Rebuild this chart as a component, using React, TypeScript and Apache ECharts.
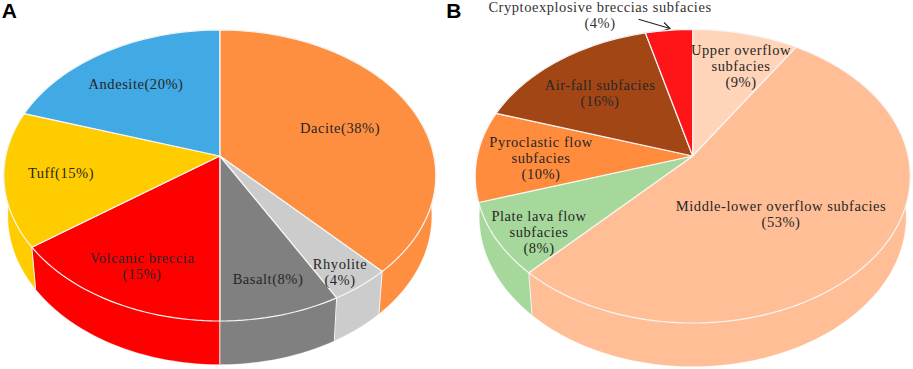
import React, { useEffect, useRef } from "react";
import * as echarts from "echarts";

// ---- data ----
const rocksNames = ["Dacite", "Rhyolite", "Basalt", "Volcanic breccia", "Tuff", "Andesite"];
const rocksValues = [38, 4, 8, 15, 15, 20];
const rocksLabels = ["Dacite(38%)", "Rhyolite\n(4%)", "Basalt(8%)", "Volcanic breccia\n(15%)", "Tuff(15%)", "Andesite(20%)"];
const rocksColors = ["#FF8F40", "#CCCCCC", "#808080", "#FF0000", "#FFCC00", "#41A9E3"];

const faciesNames = [
  "Upper overflow subfacies",
  "Middle-lower overflow subfacies",
  "Plate lava flow subfacies",
  "Pyroclastic flow subfacies",
  "Air-fall subfacies",
  "Cryptoexplosive breccias subfacies",
];
const faciesValues = [9, 53, 8, 10, 16, 4];
const faciesLabels = [
  "Upper overflow\nsubfacies\n(9%)",
  "Middle-lower overflow subfacies\n(53%)",
  "Plate lava flow\nsubfacies\n(8%)",
  "Pyroclastic flow\nsubfacies\n(10%)",
  "Air-fall subfacies\n(16%)",
  "",
];
const faciesColors = ["#FFD4B8", "#FFBE96", "#A6D89B", "#FF8C3C", "#A34616", "#FF1418"];
const calloutLabel = "Cryptoexplosive breccias subfacies\n(4%)";

// ---- layout ----
const WIDTH = 913;
const HEIGHT = 369;
const FONT = "'Liberation Serif', 'Times New Roman', serif";
const rocksLabelPos = [[340, 127.5], [340, 272], [268, 279], [142, 266], [61, 172.5], [136, 84]];
const faciesLabelPos = [[741, 66], [781, 214], [539, 232], [541, 158], [600, 93], [600, 14.5]];

type Geo = { cx: number; cy: number; up: number; down: number; rx: number };
const rocksGeo: Geo = { cx: 219.8, cy: 156, up: 126, down: 165, rx: 216 };
const faciesGeo: Geo = { cx: 692.7, cy: 156, up: 126.5, down: 167, rx: 217.5 };

// Perspective view of a circle: radial lines stay straight and meet at the apex.
function makeProjector(g: Geo) {
  const c = (g.down - g.up) / (g.down + g.up);
  const k = g.down * (1 - c);
  const m = g.rx * Math.sqrt(1 - c * c);
  const top = (share: number) => {
    const t = (share / 100) * Math.PI * 2;
    const X = Math.sin(t);
    const Y = -Math.cos(t);
    const w = 1 - c * Y;
    return [g.cx + (m * X) / w, g.cy + (k * Y) / w];
  };
  const bottom = (share: number) => {
    const p = top(share);
    return [g.cx + (p[0] - g.cx) * 0.98, g.cy + 40 + (p[1] - g.cy) * 1.02];
  };
  return { top, bottom };
}

function arc(fn: (s: number) => number[], from: number, to: number) {
  const n = Math.max(2, Math.ceil((to - from) * 2));
  const out: number[][] = [];
  for (let i = 0; i <= n; i++) out.push(fn(from + ((to - from) * i) / n));
  return out;
}

const frontness = (share: number) => -Math.cos((share / 100) * Math.PI * 2);

// A boundary close to the silhouette has no visible seam on the wall.
function wallShare(share: number) {
  const Y = frontness(share);
  if (Y > 0 && Y < 0.4) return share < 50 ? 25 : 75;
  return share;
}

function pieSeries(values: number[], colors: string[], labels: string[], labelPos: number[][], names: string[], geo: Geo) {
  const proj = makeProjector(geo);
  const starts: number[] = [];
  values.reduce((acc, v, i) => {
    starts[i] = acc;
    return acc + v;
  }, 0);
  const data = names.map((name, i) => ({ name, value: values[i] }));

  const sides = {
    type: "custom",
    coordinateSystem: "none",
    silent: true,
    z: 1,
    data,
    renderItem: (params: any, api: any) => {
      const i = params.dataIndex;
      const start = starts[i];
      const from = wallShare(start);
      const to = wallShare(start + api.value(0));
      const t = arc(proj.top, from, to);
      const b = arc(proj.bottom, from, to).reverse();
      const children: any[] = [
        { type: "polygon", shape: { points: [...t, ...b] }, style: { fill: colors[i], stroke: colors[i], lineWidth: 0.3 } },
      ];
      if (frontness(start) >= 0.4) {
        const a = proj.top(start);
        const e = proj.bottom(start);
        children.push({
          type: "line",
          z2: 5,
          shape: { x1: a[0], y1: a[1], x2: e[0], y2: e[1] },
          style: { stroke: "#F4F4F4", lineWidth: 1 },
        });
      }
      return { type: "group", children };
    },
  };

  const tops = {
    type: "custom",
    coordinateSystem: "none",
    silent: true,
    z: 2,
    data,
    renderItem: (params: any, api: any) => {
      const i = params.dataIndex;
      const from = starts[i];
      const to = from + api.value(0);
      return {
        type: "group",
        children: [
          {
            type: "polygon",
            shape: { points: [[geo.cx, geo.cy], ...arc(proj.top, from, to)] },
            style: { fill: colors[i], stroke: "#F6F6F6", lineWidth: 1.2, lineJoin: "round" },
          },
        ],
      };
    },
  };

  const text = {
    type: "custom",
    coordinateSystem: "none",
    silent: true,
    z: 3,
    data,
    renderItem: (params: any) => {
      const i = params.dataIndex;
      if (!labels[i]) return { type: "group", children: [] };
      return {
        type: "text",
        x: labelPos[i][0],
        y: labelPos[i][1],
        style: {
          text: labels[i],
          fill: "#262626",
          font: `14.5px ${FONT}`,
          align: "center",
          verticalAlign: "middle",
          lineHeight: 16.4,
        },
      };
    },
  };
  return [sides, tops, text];
}

export default function App() {
  const ref = useRef<HTMLDivElement>(null);
  useEffect(() => {
    if (!ref.current) return;
    const chart = echarts.init(ref.current, undefined, { renderer: "svg", width: WIDTH, height: HEIGHT });
    chart.setOption({
      animation: false,
      backgroundColor: "#FFFFFF",
      series: [
        ...pieSeries(rocksValues, rocksColors, rocksLabels, rocksLabelPos, rocksNames, rocksGeo),
        ...pieSeries(faciesValues, faciesColors, faciesLabels, faciesLabelPos, faciesNames, faciesGeo),
      ],
      graphic: [
        {
          type: "text",
          x: 9.5,
          y: 10.5,
          style: { text: "A", fill: "#000", font: "bold 21px 'Liberation Sans', Arial, sans-serif", align: "center", verticalAlign: "middle" },
        },
        {
          type: "text",
          x: 454,
          y: 10.5,
          style: { text: "B", fill: "#000", font: "bold 21px 'Liberation Sans', Arial, sans-serif", align: "center", verticalAlign: "middle" },
        },
        {
          type: "text",
          x: faciesLabelPos[5][0],
          y: faciesLabelPos[5][1],
          style: { text: calloutLabel, fill: "#333", font: `14.5px ${FONT}`, align: "center", verticalAlign: "middle", lineHeight: 16 },
        },
        { type: "line", shape: { x1: 638.5, y1: 19.3, x2: 670, y2: 28.5 }, style: { stroke: "#222", lineWidth: 1.1 } },
        {
          type: "polyline",
          shape: { points: [[664, 22.5], [670, 28.5], [662.5, 31]] },
          style: { stroke: "#222", lineWidth: 1.1, fill: "none" },
        },
      ],
    });
    return () => chart.dispose();
  }, []);
  return (
    <div
      ref={ref}
      style={{ position: "absolute", left: 0, top: 0, width: WIDTH, height: HEIGHT, letterSpacing: "0.55px" }}
    />
  );
}
